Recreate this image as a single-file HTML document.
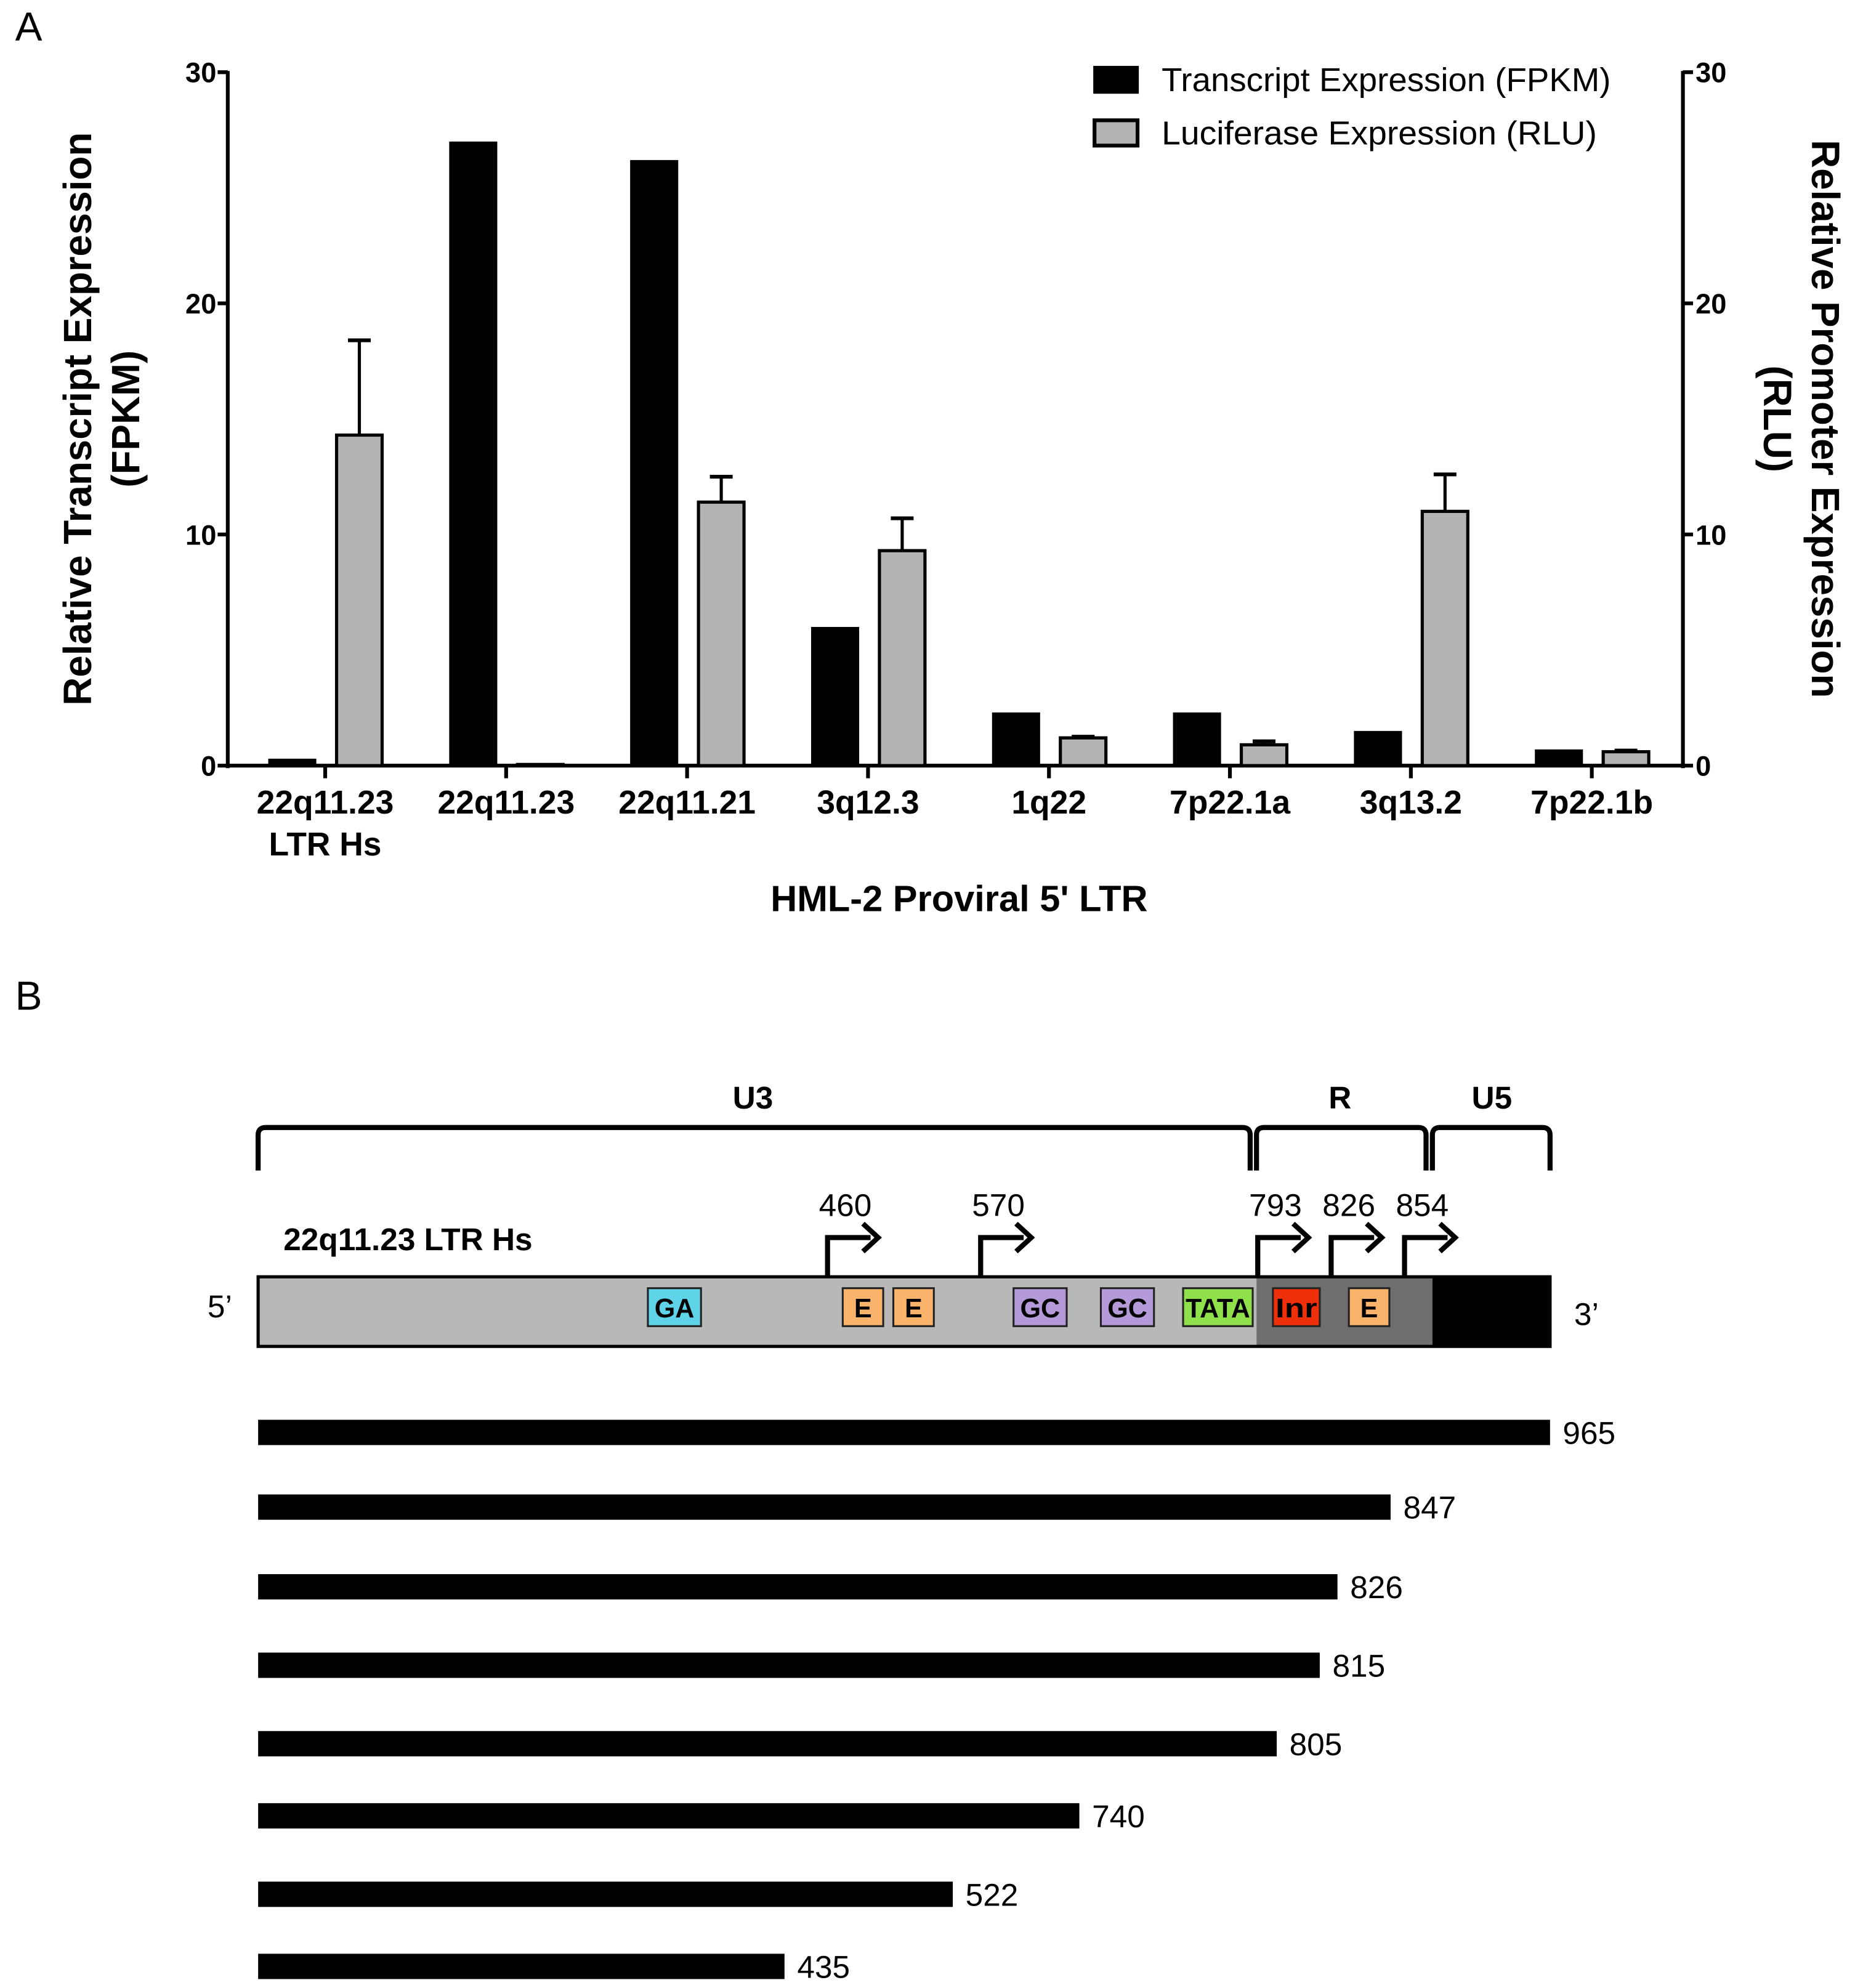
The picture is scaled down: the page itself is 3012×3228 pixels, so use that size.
<!DOCTYPE html>
<html><head><meta charset="utf-8"><style>
html,body{margin:0;padding:0;background:#fff}
svg{display:block;font-family:"Liberation Sans",Arial,sans-serif}
</style></head><body>
<svg id="fig" width="3012" height="3228" viewBox="0 0 1466 1571">
<text x="12" y="32" font-size="32">A</text>
<g id="chart"></g>
<text x="12" y="798" font-size="32">B</text>
<g id="diagram"></g>
</svg>
<script>
const categories=["22q11.23|LTR Hs","22q11.23","22q11.21","3q12.3","1q22","7p22.1a","3q13.2","7p22.1b"];
const fpkm=[0.3,27.0,26.2,6.0,2.3,2.3,1.5,0.7];
const rlu=[14.3,0.05,11.4,9.3,1.2,0.9,11.0,0.6];
const rluErr=[4.1,0,1.1,1.4,0.05,0.15,1.6,0.05];
const yTicks=[0,10,20,30];
const NS="http://www.w3.org/2000/svg";
function mk(p,tag,attrs,txt){const e=document.createElementNS(NS,tag);for(const k in attrs)e.setAttribute(k,attrs[k]);if(txt!==undefined)e.textContent=txt;p.appendChild(e);return e;}
const g=document.getElementById('chart');
const X0=180,X1=1330,Y0=605,Y30=57;
const y=v=>Y0-(v/30)*(Y0-Y30);
const cx=i=>257+i*143;
let e;
e=mk(g,'line',{x1:X0,y1:Y30-1,x2:X0,y2:Y0+2,stroke:'#000','stroke-width':3});

e=mk(g,'line',{x1:X1,y1:Y30-1,x2:X1,y2:Y0+2,stroke:'#000','stroke-width':3});

e=mk(g,'line',{x1:X0,y1:Y0,x2:X1,y2:Y0,stroke:'#000','stroke-width':3});

yTicks.forEach(t=>{
  mk(g,'line',{x1:X0-8,y1:y(t),x2:X0,y2:y(t),stroke:'#000','stroke-width':3});
  e=mk(g,'text',{x:X0-9,y:y(t)+8,'font-size':22,'font-weight':'bold','text-anchor':'end'},t);
  
  mk(g,'line',{x1:X1,y1:y(t),x2:X1+8,y2:y(t),stroke:'#000','stroke-width':3});
  e=mk(g,'text',{x:X1+10,y:y(t)+8,'font-size':22,'font-weight':'bold'},t);
  
});
categories.forEach((c,i)=>{
  mk(g,'line',{x1:cx(i),y1:Y0,x2:cx(i),y2:Y0+10,stroke:'#000','stroke-width':3});
  c.split('|').forEach((l,j)=>{
    e=mk(g,'text',{x:cx(i),y:643+j*33,'font-size':26,'font-weight':'bold','text-anchor':'middle'},l);
    
  });
  e=mk(g,'rect',{x:cx(i)-45,y:y(fpkm[i]),width:38,height:Y0-y(fpkm[i]),fill:'#000'});
  
  if(rluErr[i]>0){
    const top=y(rlu[i]+rluErr[i]),xc=cx(i)+27;
    mk(g,'line',{x1:xc,y1:top,x2:xc,y2:y(rlu[i]),stroke:'#000','stroke-width':2.5});
    mk(g,'line',{x1:xc-9,y1:top,x2:xc+9,y2:top,stroke:'#000','stroke-width':3});
  }
  e=mk(g,'rect',{x:cx(i)+9,y:y(rlu[i]),width:36,height:Y0-y(rlu[i]),fill:'#b3b3b3',stroke:'#000','stroke-width':2.5});
  
});
e=mk(g,'text',{x:758,y:720,'font-size':29,'font-weight':'bold','text-anchor':'middle'},"HML-2 Proviral 5' LTR");

e=mk(g,'text',{transform:'translate(72,331) rotate(-90)','font-size':31,'font-weight':'bold','text-anchor':'middle'},'Relative Transcript Expression');

mk(g,'text',{transform:'translate(110,331) rotate(-90)','font-size':31,'font-weight':'bold','text-anchor':'middle'},'(FPKM)');
e=mk(g,'text',{transform:'translate(1432,331) rotate(90)','font-size':31,'font-weight':'bold','text-anchor':'middle'},'Relative Promoter Expression');

mk(g,'text',{transform:'translate(1394,331) rotate(90)','font-size':31,'font-weight':'bold','text-anchor':'middle'},'(RLU)');
e=mk(g,'rect',{x:864,y:52,width:36,height:22,fill:'#000'});

e=mk(g,'text',{x:918,y:72,'font-size':26,textLength:355,lengthAdjust:'spacingAndGlyphs'},'Transcript Expression (FPKM)');

e=mk(g,'rect',{x:865,y:95,width:34,height:20,fill:'#b3b3b3',stroke:'#000','stroke-width':3});

e=mk(g,'text',{x:918,y:114,'font-size':26,textLength:344,lengthAdjust:'spacingAndGlyphs'},'Luciferase Expression (RLU)');


const d=document.getElementById('diagram');
const regions=[["U3",204,988,595],["R",993,1127,1059],["U5",1132,1225,1179]];
regions.forEach(r=>{
  e=mk(d,'path',{d:`M${r[1]} 925 L${r[1]} 897 Q${r[1]} 891 ${r[1]+6} 891 L${r[2]-6} 891 Q${r[2]} 891 ${r[2]} 897 L${r[2]} 925`,fill:'none',stroke:'#000','stroke-width':4});
  
  e=mk(d,'text',{x:r[3],y:876,'font-size':25,'font-weight':'bold','text-anchor':'middle'},r[0]);
  
});
e=mk(d,'text',{x:224,y:988,'font-size':25,'font-weight':'bold'},'22q11.23 LTR Hs');

mk(d,'text',{x:164,y:1041,'font-size':25},'5’');
mk(d,'text',{x:1244,y:1047,'font-size':25},'3’');
mk(d,'rect',{x:204,y:1009,width:789,height:55,fill:'#b8b8b8'});
mk(d,'rect',{x:993,y:1009,width:139,height:55,fill:'#6e6e6e'});
mk(d,'rect',{x:1132,y:1009,width:93,height:55,fill:'#000'});
e=mk(d,'rect',{x:204,y:1009,width:1021,height:55,fill:'none',stroke:'#000','stroke-width':2.5});

const boxes=[["GA",512,42,"#5fd3e8"],["E",666,32,"#f9b36b"],["E",706,32,"#f9b36b"],["GC",801,42,"#b49ad8"],["GC",870,42,"#b49ad8"],["TATA",935,55,"#8fe04a"],["Inr",1006,37,"#f0300a"],["E",1066,32,"#f9b36b"]];
boxes.forEach(b=>{
  e=mk(d,'rect',{x:b[1],y:1018,width:b[2],height:30,fill:b[3],stroke:'#222','stroke-width':1.5});
  
  const a={x:b[1]+b[2]/2,y:1041,'font-size':21,'font-weight':'bold','text-anchor':'middle'};
  if(b[0].length>2){a.textLength=b[2]-4;a.lengthAdjust='spacingAndGlyphs';}
  mk(d,'text',a,b[0]);
});
const tss=[["460",654],["570",775],["793",994],["826",1052],["854",1110]];
tss.forEach(t=>{
  e=mk(d,'path',{d:`M${t[1]} 1009 L${t[1]} 978 L${t[1]+34} 978`,fill:'none',stroke:'#000','stroke-width':4});
  
  mk(d,'path',{d:`M${t[1]+28} 967 L${t[1]+40} 978 L${t[1]+28} 989`,fill:'none',stroke:'#000','stroke-width':4});
  e=mk(d,'text',{x:t[1]+14,y:961,'font-size':25,'text-anchor':'middle'},t[0]);
  
});
const lengths=["965","847","826","815","805","740","522","435"];
const ends=[1225,1099,1057,1043,1009,853,753,620];
const rowsY=[1132,1191,1254,1316,1378,1435,1497,1554];
lengths.forEach((l,i)=>{
  e=mk(d,'rect',{x:204,y:rowsY[i]-10,width:ends[i]-204,height:20,fill:'#000'});
  
  e=mk(d,'text',{x:ends[i]+10,y:rowsY[i]+9,'font-size':25},l);
  
});
</script>
</body></html>
